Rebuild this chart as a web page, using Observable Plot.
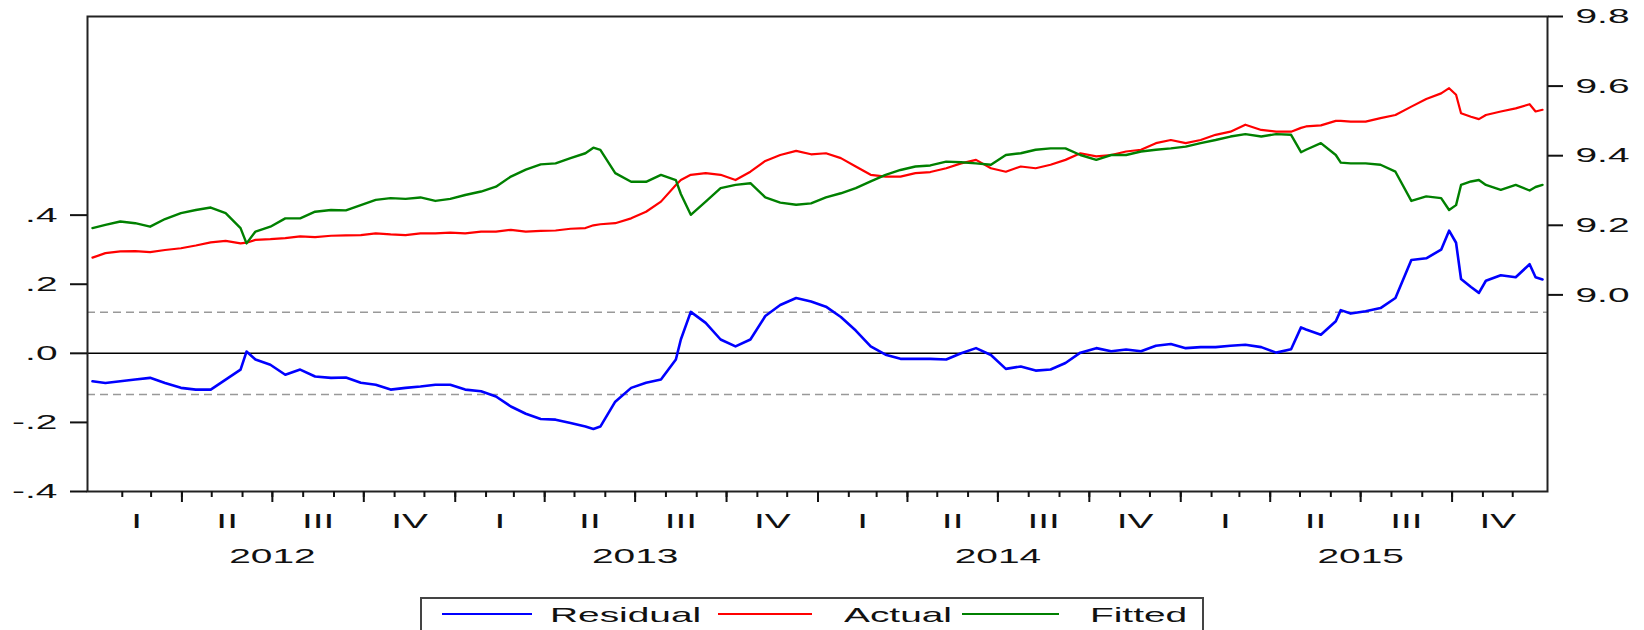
<!DOCTYPE html>
<html>
<head>
<meta charset="utf-8">
<script src="https://cdn.jsdelivr.net/npm/d3@7"></script>
<script src="https://cdn.jsdelivr.net/npm/@observablehq/plot@0.6"></script>
<style>
  body { margin: 0; background: #fff; font-family: "Liberation Sans", Arial, sans-serif; }
  #wrap { position: relative; width: 1644px; height: 630px; overflow: hidden; background: #fff; }
  #chart svg { display: block; }
  .lg-box { position: absolute; left: 420px; top: 597px; width: 784px; height: 50px; border: 2px solid #444; box-sizing: border-box; }
  .lg-line { position: absolute; height: 1.6px; top: 613px; }
  .lg-text { position: absolute; top: 604px; font-size: 21px; line-height: 21px; color: #111; white-space: nowrap; transform: scaleX(1.85); transform-origin: 0 0; }
</style>
</head>
<body>
<div id="wrap">
  <div id="chart"></div>
  <div id="legend"></div>
</div>
<script>
// ---------------- data ----------------
const dates = [
  "2012-01-02","2012-01-15","2012-01-30","2012-02-14","2012-02-29","2012-03-15","2012-03-31","2012-04-15","2012-04-30","2012-05-15",
  "2012-05-30","2012-06-05","2012-06-14","2012-06-29","2012-07-14","2012-07-29","2012-08-13","2012-08-29","2012-09-13","2012-09-28",
  "2012-10-13","2012-10-28","2012-11-12","2012-11-27","2012-12-12","2012-12-27","2013-01-11","2013-01-27","2013-02-11","2013-02-26",
  "2013-03-13","2013-03-28","2013-04-12","2013-04-27","2013-05-12","2013-05-20","2013-05-27","2013-06-11","2013-06-27","2013-07-12",
  "2013-07-27","2013-08-11","2013-08-16","2013-08-26","2013-09-10","2013-09-25","2013-10-10","2013-10-25","2013-11-09","2013-11-24",
  "2013-12-10","2013-12-25","2014-01-09","2014-01-24","2014-02-08","2014-02-23","2014-03-10","2014-03-25","2014-04-09","2014-04-24",
  "2014-05-10","2014-05-25","2014-06-09","2014-06-24","2014-07-09","2014-07-24","2014-08-08","2014-08-23","2014-09-07","2014-09-22",
  "2014-10-08","2014-10-23","2014-11-07","2014-11-22","2014-12-07","2014-12-22","2015-01-06","2015-01-21","2015-02-05","2015-02-20",
  "2015-03-07","2015-03-23","2015-04-07","2015-04-22","2015-05-02","2015-05-07","2015-05-22","2015-06-06","2015-06-11","2015-06-21",
  "2015-07-06","2015-07-21","2015-08-05","2015-08-21","2015-09-05","2015-09-20","2015-09-28","2015-10-05","2015-10-10","2015-10-20",
  "2015-10-28","2015-11-04","2015-11-19","2015-12-04","2015-12-18","2015-12-24","2015-12-31"
];
const residual = [
  -0.081,-0.086,-0.081,-0.076,-0.071,-0.086,-0.100,-0.105,-0.105,-0.076,
  -0.047, 0.005,-0.018,-0.033,-0.062,-0.047,-0.067,-0.071,-0.070,-0.085,
  -0.091,-0.105,-0.100,-0.096,-0.091,-0.091,-0.105,-0.110,-0.125,-0.154,
  -0.175,-0.190,-0.192,-0.202,-0.212,-0.219,-0.212,-0.140,-0.100,-0.085,
  -0.076,-0.018, 0.040, 0.120, 0.088, 0.040, 0.020, 0.040, 0.108, 0.140,
   0.160, 0.150, 0.135, 0.105, 0.066, 0.020,-0.004,-0.016,-0.016,-0.016,
  -0.018, 0.000, 0.015,-0.005,-0.045,-0.038,-0.050,-0.047,-0.028, 0.002,
   0.015, 0.006, 0.011, 0.006, 0.022, 0.027, 0.015, 0.018, 0.018, 0.022,
   0.025, 0.018, 0.002, 0.012, 0.075, 0.069, 0.054, 0.093, 0.125, 0.115,
   0.122, 0.131, 0.160, 0.270, 0.275, 0.300, 0.355, 0.320, 0.215, 0.192,
   0.175, 0.210, 0.226, 0.220, 0.258, 0.220, 0.214
];
const actual = [
  9.107,9.120,9.125,9.126,9.123,9.129,9.134,9.142,9.151,9.155,
  9.148,9.150,9.158,9.160,9.163,9.168,9.166,9.170,9.171,9.172,
  9.177,9.174,9.172,9.177,9.177,9.179,9.177,9.182,9.182,9.187,
  9.182,9.184,9.185,9.190,9.192,9.200,9.203,9.206,9.220,9.239,
  9.268,9.316,9.330,9.345,9.350,9.345,9.330,9.354,9.385,9.402,
  9.414,9.404,9.407,9.393,9.369,9.345,9.340,9.340,9.350,9.353,
  9.364,9.378,9.388,9.364,9.354,9.369,9.364,9.374,9.388,9.407,
  9.398,9.402,9.412,9.417,9.436,9.445,9.436,9.445,9.460,9.469,
  9.489,9.474,9.469,9.469,9.480,9.484,9.487,9.500,9.500,9.498,
  9.498,9.508,9.517,9.541,9.563,9.579,9.594,9.575,9.522,9.512,
  9.505,9.517,9.527,9.536,9.548,9.527,9.532
];
const fitted = [
  9.192,9.201,9.211,9.206,9.196,9.218,9.235,9.244,9.251,9.235,
  9.192,9.148,9.182,9.196,9.220,9.220,9.239,9.244,9.243,9.258,
  9.273,9.278,9.276,9.280,9.270,9.276,9.287,9.297,9.311,9.340,
  9.360,9.375,9.378,9.393,9.407,9.423,9.417,9.350,9.325,9.325,
  9.345,9.330,9.290,9.230,9.268,9.307,9.316,9.321,9.280,9.265,
  9.259,9.263,9.280,9.292,9.307,9.326,9.345,9.359,9.369,9.372,
  9.383,9.381,9.378,9.374,9.402,9.407,9.417,9.421,9.421,9.402,
  9.388,9.402,9.402,9.412,9.417,9.421,9.426,9.436,9.445,9.455,
  9.462,9.455,9.462,9.460,9.410,9.417,9.436,9.402,9.380,9.378,
  9.378,9.374,9.354,9.270,9.283,9.278,9.244,9.258,9.316,9.326,
  9.330,9.316,9.302,9.316,9.300,9.310,9.316
];
// residual standard-error band (dashed lines)
const seBand = [0.119, -0.119];

// axes
const leftTicks = [-0.4, -0.2, 0, 0.2, 0.4];
const leftTickLabels = ["-.4", "-.2", ".0", ".2", ".4"];
const rightTicks = [9.0, 9.2, 9.4, 9.6, 9.8];
const rightTickLabels = ["9.0", "9.2", "9.4", "9.6", "9.8"];
const quarterLabels = ["I", "II", "III", "IV"];
const years = [2012, 2013, 2014, 2015];
const seriesNames = ["Residual", "Actual", "Fitted"];
const seriesColors = ["#0000ff", "#ff0000", "#008000"];

// ---------------- build ----------------
const parse = d3.utcParse("%Y-%m-%d");
const rows = dates.map((d, i) => ({date: parse(d), residual: residual[i], actual: actual[i], fitted: fitted[i]}));

const leftDomain = [-0.4, 0.975];
const rightDomain = [8.435, 9.8];
const toLeft = v => leftDomain[0] + (v - rightDomain[0]) / (rightDomain[1] - rightDomain[0]) * (leftDomain[1] - leftDomain[0]);

const monthTicks = d3.utcMonth.range(new Date(Date.UTC(2012, 1, 1)), new Date(Date.UTC(2016, 0, 1)));
const quarterTicks = d3.utcMonth.every(3).range(new Date(Date.UTC(2012, 3, 1)), new Date(Date.UTC(2016, 0, 1)));
const quarterMids = [];
years.forEach(y => [0, 1, 2, 3].forEach(q => {
  const a = Date.UTC(y, q * 3, 1), b = Date.UTC(y, q * 3 + 3, 1);
  quarterMids.push(new Date((a + b) / 2));
}));
const yearMids = years.map(y => new Date(Date.UTC(y, 6, 1)));

const font = "'Liberation Sans', Arial, sans-serif";

const plot = Plot.plot({
  width: 1644,
  height: 590,
  marginLeft: 87,
  marginRight: 97,
  marginTop: 16,
  marginBottom: 99,
  style: {fontFamily: font, fontSize: "21px", color: "#111", background: "white", overflow: "visible"},
  x: {type: "utc", domain: [parse("2011-12-28"), parse("2016-01-05")], axis: null},
  y: {domain: leftDomain, axis: null},
  marks: [
    Plot.ruleY(seBand, {stroke: "#999", strokeWidth: 1.4, strokeDasharray: "8,5"}),
    Plot.ruleY([0], {stroke: "#000", strokeWidth: 1.6}),
    Plot.line(rows, {x: "date", y: d => toLeft(d.actual), stroke: seriesColors[1], strokeWidth: 2.2}),
    Plot.line(rows, {x: "date", y: d => toLeft(d.fitted), stroke: seriesColors[2], strokeWidth: 2.4}),
    Plot.line(rows, {x: "date", y: "residual", stroke: seriesColors[0], strokeWidth: 2.6}),
    Plot.frame({stroke: "#222", strokeWidth: 2}),
    Plot.axisY(leftTicks, {anchor: "left", label: null, tickSize: 17, tickPadding: 13, strokeWidth: 2,
      tickFormat: d => leftTickLabels[leftTicks.indexOf(d)]}),
    Plot.axisY(rightTicks.map(toLeft), {anchor: "right", label: null, tickSize: 15, tickPadding: 13, strokeWidth: 2,
      tickFormat: (d) => rightTickLabels[rightTicks.map(toLeft).indexOf(d)]}),
    Plot.axisX(monthTicks, {anchor: "bottom", label: null, tickSize: 6, strokeWidth: 2, tickFormat: () => ""}),
    Plot.axisX(quarterTicks, {anchor: "bottom", label: null, tickSize: 11, strokeWidth: 2, tickFormat: () => ""}),
    Plot.axisX(quarterMids, {anchor: "bottom", label: null, tickSize: 0, tickPadding: 22,
      tickFormat: d => quarterLabels[Math.floor(d.getUTCMonth() / 3)]}),
    Plot.axisX(yearMids, {anchor: "bottom", label: null, tickSize: 0, tickPadding: 57,
      tickFormat: d => String(d.getUTCFullYear())})
  ]
});
document.getElementById("chart").append(plot);

// the reference's lettering is horizontally stretched
const K = 1.85;
plot.querySelectorAll("text").forEach(t => {
  if (!t.textContent) return;
  const L = t.getComputedTextLength();
  t.setAttribute("textLength", (L * K).toFixed(1));
  t.setAttribute("lengthAdjust", "spacingAndGlyphs");
});

// legend below the chart
const lg = document.getElementById("legend");
const box = document.createElement("div");
box.className = "lg-box";
lg.append(box);
const lineX = [[442, 532], [718, 812], [962, 1059]];
const textX = [550, 844, 1090];
seriesNames.forEach((name, i) => {
  const l = document.createElement("div");
  l.className = "lg-line";
  l.style.left = lineX[i][0] + "px";
  l.style.width = (lineX[i][1] - lineX[i][0]) + "px";
  l.style.background = seriesColors[i];
  lg.append(l);
  const t = document.createElement("span");
  t.className = "lg-text";
  t.style.left = textX[i] + "px";
  t.textContent = name;
  lg.append(t);
});
</script>
</body>
</html>
